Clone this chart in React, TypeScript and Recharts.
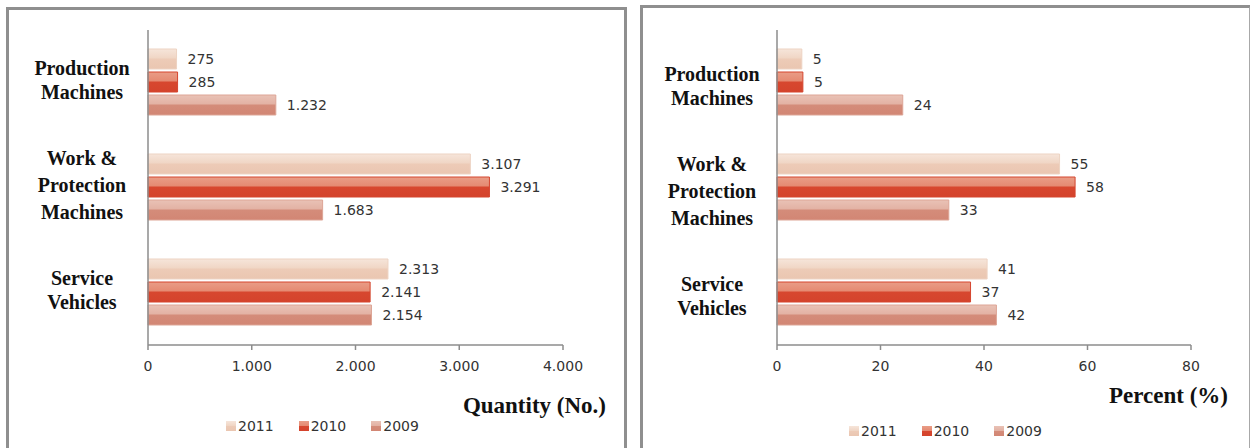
import React from "react";
import { BarChart, Bar, XAxis, YAxis, LabelList } from "recharts";

const categories = ["Production\nMachines", "Work &\nProtection\nMachines", "Service\nVehicles"];
const years = ["2011", "2010", "2009"];

const quantity2011 = [275, 3107, 2313];
const quantity2010 = [285, 3291, 2141];
const quantity2009 = [1232, 1683, 2154];
const quantityTicks = [0, 1000, 2000, 3000, 4000];

const percent2011 = [4.8, 54.6, 40.6];
const percent2010 = [5.0, 57.6, 37.4];
const percent2009 = [24.3, 33.2, 42.4];
const percentTicks = [0, 20, 40, 60, 80];

// top-half / bottom-half shading like the old office bars
const shades: Record<string, string[]> = {
  "2011": ["#F6E5DA", "#F0D6C5", "#EDCBB7", "#EAC6B1"],
  "2010": ["#E99D87", "#E58A72", "#D7472F", "#D4432C"],
  "2009": ["#E9C2B6", "#E3B2A4", "#D48C7A", "#D28674"],
};
const outline: Record<string, string> = {
  "2011": "#EDD3C3",
  "2010": "#D5462F",
  "2009": "#DDA596",
};

const SANS = "'DejaVu Sans', sans-serif";
const SERIF = "'Liberation Serif', 'Times New Roman', serif";
const AXIS = "#8c8c8c";

const dotted = (v: number) => String(v).replace(/\B(?=(\d{3})+(?!\d))/g, ".");

function CategoryTick(props: any) {
  const { x, y, payload, dy, dx } = props;
  const lines = String(payload.value).split("\n");
  const step = lines.length === 3 ? 27 : 24;
  return (
    <g>
      {lines.map((line, i) => (
        <text
          key={i}
          x={x - dx}
          y={y + dy + (i - (lines.length - 1) / 2) * step + 6.5}
          textAnchor="middle"
          fontFamily={SERIF}
          fontWeight="bold"
          fontSize={20}
          fill="#111"
        >
          {line}
        </text>
      ))}
    </g>
  );
}

function AxisTitle({ viewBox, value, dx, dy }: any) {
  return (
    <text
      x={viewBox.x + viewBox.width + dx}
      y={viewBox.y + dy}
      textAnchor="end"
      fontFamily={SERIF}
      fontWeight="bold"
      fontSize={23}
      fill="#111"
    >
      {value}
    </text>
  );
}

function Legend({ left, top }: { left: number; top: number }) {
  return (
    <div
      style={{
        position: "absolute",
        left,
        top,
        display: "flex",
        alignItems: "center",
        fontFamily: SANS,
        fontSize: 14,
        color: "#333",
        lineHeight: "12px",
      }}
    >
      {years.map((yr) => {
        const s = shades[yr];
        return (
          <div key={yr} style={{ display: "flex", alignItems: "center", marginRight: 25 }}>
            <span
              style={{
                width: 10,
                height: 10,
                marginRight: 2,
                background: `linear-gradient(${s[0]} 0%, ${s[1]} 45%, ${s[2]} 50%, ${s[3]} 100%)`,
              }}
            />
            <span>{yr}</span>
          </div>
        );
      })}
    </div>
  );
}

type PanelProps = {
  id: string;
  width: number;
  data: any[];
  ticks: number[];
  format: (v: number) => string;
  catWidth: number;
  margin: { top: number; right: number; bottom: number; left: number };
  title: string;
  titleDx: number;
  titleDy: number;
  labelDx: number;
  labelDy: number;
};

function Panel(p: PanelProps) {
  const { id, width, data, ticks, format, catWidth, margin, title, titleDx, titleDy, labelDx, labelDy } = p;
  return (
    <BarChart
      width={width}
      height={448}
      data={data}
      layout="vertical"
      margin={margin}
      barCategoryGap={19}
      barGap={3}
    >
      <defs>
        {years.map((yr) => {
          const s = shades[yr];
          return (
            <linearGradient key={yr} id={`${id}-${yr}`} x1="0" y1="0" x2="0" y2="1">
              <stop offset="0%" stopColor={s[0]} />
              <stop offset="45%" stopColor={s[1]} />
              <stop offset="50%" stopColor={s[2]} />
              <stop offset="100%" stopColor={s[3]} />
            </linearGradient>
          );
        })}
      </defs>
      <XAxis
        type="number"
        domain={[ticks[0], ticks[ticks.length - 1]]}
        ticks={ticks}
        interval={0}
        height={30}
        stroke={AXIS}
        strokeWidth={1.5}
        tickSize={5}
        tickMargin={11}
        tickFormatter={format}
        tick={{ fill: "#333", fontFamily: SANS, fontSize: 14 }}
        label={{
          value: title,
          content: (lp: any) => <AxisTitle {...lp} value={title} dx={titleDx} dy={titleDy} />,
        }}
      />
      <YAxis
        type="category"
        dataKey="category"
        width={catWidth}
        axisLine={{ stroke: AXIS, strokeWidth: 1.5 }}
        tickLine={false}
        tickSize={0}
        tickMargin={0}
        interval={0}
        tick={<CategoryTick dx={labelDx} dy={labelDy} />}
      />
      {years.map((yr) => (
        <Bar
          key={yr}
          dataKey={`y${yr}`}
          fill={`url(#${id}-${yr})`}
          stroke={outline[yr]}
          strokeWidth={1}
          isAnimationActive={false}
        >
          <LabelList
            dataKey={`y${yr}`}
            position="right"
            offset={11}
            formatter={(v: any) => format(Math.round(Number(v)))}
            style={{ fill: "#333", fontFamily: SANS, fontSize: 14 }}
          />
        </Bar>
      ))}
    </BarChart>
  );
}

const quantityData = categories.map((c, i) => ({
  category: c,
  y2011: quantity2011[i],
  y2010: quantity2010[i],
  y2009: quantity2009[i],
}));

const percentData = categories.map((c, i) => ({
  category: c,
  y2011: percent2011[i],
  y2010: percent2010[i],
  y2009: percent2009[i],
}));

export default function App() {
  return (
    <div
      style={{
        position: "absolute",
        left: 0,
        top: 0,
        width: 1250,
        height: 448,
        overflow: "hidden",
        background: "#fff",
      }}
    >
      <div
        style={{
          position: "absolute",
          left: 6,
          top: 7,
          width: 615,
          height: 460,
          border: "3px solid #8f8f8f",
        }}
      />
      <div
        style={{
          position: "absolute",
          left: 640,
          top: 5,
          width: 606,
          height: 460,
          borderTop: "3px solid #8f8f8f",
          borderLeft: "3px solid #8f8f8f",
          borderRight: "2px solid #a8a8a8",
        }}
      />
      <div style={{ position: "absolute", left: 0, top: 0 }}>
        <Panel
          id="qty"
          width={630}
          data={quantityData}
          ticks={quantityTicks}
          format={dotted}
          catWidth={140}
          margin={{ top: 30, right: 67, bottom: 73, left: 8 }}
          title="Quantity (No.)"
          titleDx={43}
          titleDy={68}
          labelDx={66}
          labelDy={-2}
        />
      </div>
      <div style={{ position: "absolute", left: 640, top: 0 }}>
        <Panel
          id="pct"
          width={610}
          data={percentData}
          ticks={percentTicks}
          format={(v) => String(v)}
          catWidth={130}
          margin={{ top: 30, right: 59, bottom: 73, left: 7 }}
          title="Percent (%)"
          titleDx={37}
          titleDy={58}
          labelDx={65}
          labelDy={4}
        />
      </div>
      <Legend left={226} top={420} />
      <Legend left={849} top={425} />
    </div>
  );
}
